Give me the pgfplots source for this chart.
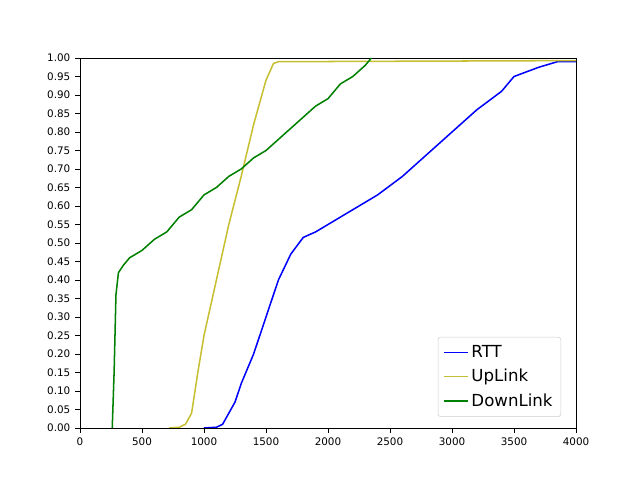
\documentclass[border=0pt]{standalone}
\usepackage{pgfplots}
\pgfplotsset{compat=1.18}
\usepackage{fontspec}
\setmainfont{DejaVu Sans}
\begin{document}
\begin{tikzpicture}
\begin{axis}[scale only axis, width=4.96in, height=3.7in,
 xmin=0, xmax=4000, ymin=0, ymax=1,
 xtick={0,500,...,4000}, ytick={0,0.05,...,1.0001},
 xticklabel style={/pgf/number format/.cd,set thousands separator={}},
 yticklabel style={/pgf/number format/.cd,fixed,fixed zerofill,precision=2},
 /pgf/number format/assume math mode=true,
 scaled x ticks=false, scaled y ticks=false,
 xtick pos=bottom, ytick pos=left,
 tick style={black}, tick align=outside, major tick length=3.5pt,
 every tick label/.append style={font=\fontsize{7.5}{9}\selectfont},
 legend pos=south east,
 legend style={font=\fontsize{12}{15}\selectfont, rounded corners=2pt, draw=black!20, row sep=3pt, inner sep=4pt},
 legend cell align=left, every axis plot/.append style={line width=1.1pt}]
\addplot[blue, no marks] coordinates {(1000,0) (1100,0.002) (1150,0.01) (1200,0.04) (1250,0.07) (1300,0.12) (1400,0.2) (1500,0.3) (1600,0.4) (1700,0.47) (1800,0.515) (1900,0.53) (2000,0.55) (2200,0.59) (2400,0.63) (2600,0.68) (2800,0.74) (3000,0.80) (3200,0.86) (3400,0.91) (3500,0.95) (3700,0.975) (3850,0.99) (4000,0.99)};
\addlegendentry{RTT}
\addplot[yellow!75!black, no marks] coordinates {(720,0) (800,0.002) (850,0.01) (900,0.04) (950,0.15) (1000,0.25) (1100,0.4) (1200,0.55) (1300,0.68) (1400,0.82) (1500,0.94) (1560,0.985) (1600,0.99) (4000,0.993)};
\addlegendentry{UpLink}
\addplot[green!50!black, no marks] coordinates {(260,0) (275,0.15) (290,0.36) (310,0.42) (350,0.44) (400,0.46) (500,0.48) (600,0.51) (700,0.53) (800,0.57) (900,0.59) (1000,0.63) (1100,0.65) (1200,0.68) (1300,0.7) (1400,0.73) (1500,0.75) (1600,0.78) (1700,0.81) (1800,0.84) (1900,0.87) (2000,0.89) (2100,0.93) (2200,0.95) (2300,0.98) (2350,1.0)};
\addlegendentry{DownLink}
\end{axis}
\path ([shift={(-0.8in,-0.52in)}]current axis.south west) rectangle ([shift={(0.64in,0.58in)}]current axis.north east);
\end{tikzpicture}
\end{document}
